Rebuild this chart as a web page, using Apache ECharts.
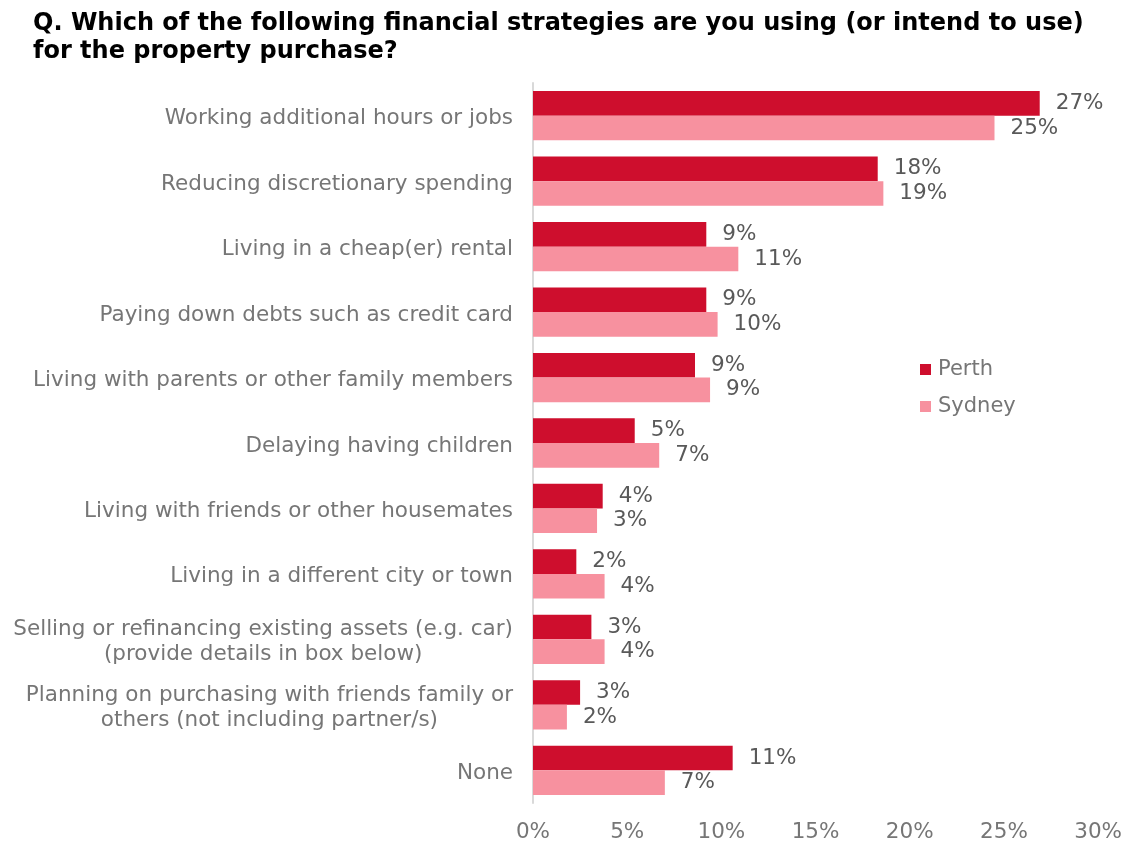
<!DOCTYPE html>
<html>
<head>
<meta charset="utf-8">
<script src="https://cdn.jsdelivr.net/npm/echarts@6/dist/echarts.min.js"></script>
<style>
  html, body { margin: 0; padding: 0; background: #ffffff; }
  #chart { width: 1125px; height: 843px; }
</style>
</head>
<body>
<div id="chart"></div>
<script>
// Survey answers, top to bottom as shown on the chart
const categories = [
  'Working additional hours or jobs',
  'Reducing discretionary spending',
  'Living in a cheap(er) rental',
  'Paying down debts such as credit card',
  'Living with parents or other family members',
  'Delaying having children',
  'Living with friends or other housemates',
  'Living in a different city or town',
  'Selling or refinancing existing assets (e.g. car)\n(provide details in box below)',
  'Planning on purchasing with friends family or\nothers (not including partner/s)',
  'None'
];

// Share of respondents (%)
const perth  = [26.9, 18.3, 9.2, 9.2, 8.6, 5.4, 3.7, 2.3, 3.1, 2.5, 10.6];
const sydney = [24.5, 18.6, 10.9, 9.8, 9.4, 6.7, 3.4, 3.8, 3.8, 1.8, 7.0];

const xTicks = [0, 5, 10, 15, 20, 25, 30];

const FONT = '"DejaVu Sans", Verdana, sans-serif';

const chart = echarts.init(document.getElementById('chart'), null, { renderer: 'canvas' });

const labelStyle = {
  show: true,
  position: 'right',
  distance: 16,
  color: '#595959',
  fontFamily: FONT,
  fontSize: 21.5,
  padding: [5, 0, 0, 0],
  formatter: p => Math.round(p.value) + '%'
};

chart.setOption({
  animation: false,
  backgroundColor: '#ffffff',
  title: {
    text: 'Q. Which of the following financial strategies are you using (or intend to use)\nfor the property purchase?',
    left: 33,
    top: 10,
    padding: 0,
    textStyle: {
      fontFamily: FONT,
      fontWeight: 'bold',
      fontSize: 24,
      lineHeight: 28,
      color: '#000000'
    }
  },
  legend: {
    orient: 'vertical',
    left: 915,
    top: 354,
    itemWidth: 11,
    itemHeight: 11,
    itemGap: 16,
    icon: 'rect',
    textStyle: { fontFamily: FONT, fontSize: 21, color: '#767676', padding: [0, 0, 0, 2] },
    data: ['Perth', 'Sydney']
  },
  grid: { left: 533, right: 25, top: 83, bottom: 37, containLabel: false },
  xAxis: {
    type: 'value',
    min: xTicks[0],
    max: xTicks[xTicks.length - 1],
    interval: 5,
    axisLine: { show: false },
    axisTick: { show: false },
    splitLine: { show: false },
    axisLabel: {
      margin: 18,
      fontFamily: FONT,
      fontSize: 21.5,
      color: '#767676',
      formatter: v => v + '%'
    }
  },
  yAxis: {
    type: 'category',
    inverse: true,
    data: categories,
    axisLine: { show: true, lineStyle: { color: '#d9d9d9', width: 2 } },
    axisTick: { show: false },
    axisLabel: {
      margin: 20,
      interval: 0,
      fontFamily: FONT,
      fontSize: 21.5,
      color: '#767676',
      lineHeight: 25,
      padding: [6, 0, 0, 0],
      formatter: v => v.split('\n').map(l => '{c|' + l + '}').join('\n'),
      rich: {
        c: { align: 'center', fontFamily: FONT, fontSize: 21.5, color: '#767676', lineHeight: 25 }
      }
    }
  },
  series: [
    {
      name: 'Perth',
      type: 'bar',
      data: perth,
      barGap: '0%',
      barCategoryGap: '24.7%',
      itemStyle: { color: '#CE0E2D' },
      label: labelStyle
    },
    {
      name: 'Sydney',
      type: 'bar',
      data: sydney,
      barGap: '0%',
      barCategoryGap: '24.7%',
      itemStyle: { color: '#F7919F' },
      label: labelStyle
    }
  ]
});
</script>
</body>
</html>
